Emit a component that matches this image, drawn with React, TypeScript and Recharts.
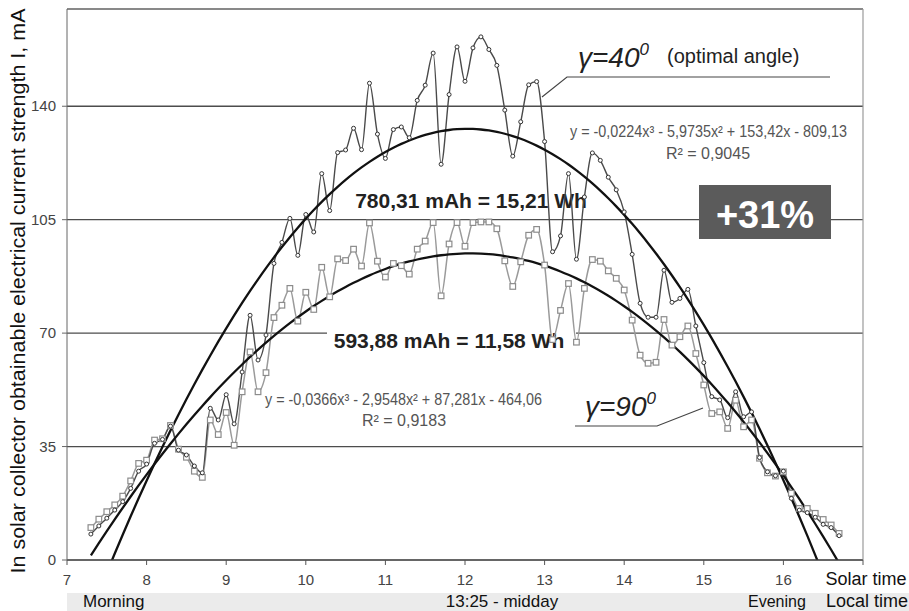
import React from "react";
import { ComposedChart, Line, XAxis, YAxis, CartesianGrid, ReferenceLine } from "recharts";

// Solar time of each measurement, 6 minutes apart
const TIMES = Array.from({ length: 95 }, (_, i) => Math.round((7.3 + i * 0.1) * 10) / 10);

// Current, mA, collector at 40 degrees (optimal angle)
const CURRENT_40 = [
  8.0, 10.5, 12.9, 15.4, 18.0, 22.1, 27.4, 29.6, 36.0, 37.2,
  41.3, 33.9, 32.4, 29.0, 26.9, 46.8, 43.2, 51.0, 42.0, 58.0,
  75.5, 61.7, 69.4, 91.5, 98.0, 105.4, 94.0, 106.6, 101.2, 119.2,
  107.8, 125.7, 126.5, 133.2, 126.6, 147.1, 131.4, 123.9, 132.8, 133.6,
  130.3, 141.8, 146.5, 156.4, 122.1, 143.6, 158.3, 147.7, 158.0, 161.4,
  157.5, 152.6, 138.8, 124.6, 135.2, 146.6, 147.6, 129.1, 95.1, 100.0,
  119.2, 92.8, 112.0, 125.6, 123.3, 118.1, 114.2, 107.4, 94.3, 79.2,
  74.9, 74.9, 89.4, 79.5, 80.7, 83.5, 72.2, 60.9, 50.4, 49.4,
  43.9, 51.9, 44.2, 45.7, 31.6, 27.2, 26.0, 27.4, 19.0, 15.4,
  14.6, 13.2, 11.0, 10.0, 7.5,
];

// Current, mA, collector at 90 degrees
const CURRENT_90 = [
  10.0, 12.6, 14.9, 17.0, 19.7, 24.4, 29.8, 30.8, 37.0, 37.4,
  41.5, 34.2, 31.7, 27.4, 25.5, 43.2, 38.7, 45.5, 35.4, 51.9,
  64.2, 51.9, 57.8, 74.8, 78.6, 83.8, 73.7, 82.6, 77.3, 90.3,
  81.2, 92.9, 92.4, 95.9, 90.7, 104.0, 92.2, 87.3, 91.5, 90.8,
  88.2, 95.9, 98.4, 104.1, 81.5, 97.5, 104.1, 96.8, 104.1, 104.3,
  104.3, 102.2, 92.3, 84.4, 92.0, 100.2, 102.0, 91.0, 68.0, 77.0,
  85.3, 67.2, 83.8, 92.7, 92.2, 89.2, 86.9, 83.3, 74.0, 63.2,
  60.7, 61.0, 74.2, 66.3, 68.9, 72.2, 63.7, 54.0, 45.2, 45.7,
  40.6, 49.3, 41.1, 43.2, 31.4, 26.9, 25.9, 27.2, 20.6, 15.9,
  15.9, 14.4, 12.5, 10.8, 8.2,
];

// cubic trendline coefficients as printed on the chart
const TREND_40 = [-0.0224, -5.9735, 153.42, -809.13];
const TREND_90 = [-0.0366, -2.9548, 87.281, -464.06];

const X_TICKS = [7, 8, 9, 10, 11, 12, 13, 14, 15, 16, 17];
const Y_TICKS = [0, 35, 70, 105, 140];

const SANS = "'Liberation Sans', Arial, sans-serif";
const NARROW = "'Liberation Sans Narrow', 'Arial Narrow', 'Liberation Sans', sans-serif";

const cubic = (c: number[], x: number) => c[0] * x ** 3 + c[1] * x ** 2 + c[2] * x + c[3];

const data = TIMES.map((t, i) => ({
  t,
  g40: CURRENT_40[i],
  g90: CURRENT_90[i],
  f40: cubic(TREND_40, t),
  f90: cubic(TREND_90, t),
}));

const SquareDot = (props: any) => {
  const { cx, cy, index } = props;
  if (cx == null || cy == null) return <g key={`sq-${index}`} />;
  return (
    <rect key={`sq-${index}`} x={cx - 2.8} y={cy - 2.8} width={5.6} height={5.6}
      fill="#fff" stroke="#8c8c8c" strokeWidth={1.2} />
  );
};

const XTick = (props: any) => {
  const { x, y, payload } = props;
  if (payload.value === 17) {
    return <text x={x + 3} y={y + 18} textAnchor="middle" fontFamily={SANS} fontSize={18} fill="#111">Solar time</text>;
  }
  return <text x={x} y={y + 18} textAnchor="middle" fontFamily={NARROW} fontSize={15} fill="#444">{payload.value}</text>;
};

const YTick = (props: any) => {
  const { x, y, payload } = props;
  return <text x={x} y={y + 5} textAnchor="end" fontFamily={NARROW} fontSize={15} fill="#444">{payload.value}</text>;
};

export default function App() {
  return (
    <div style={{ position: "absolute", left: 0, top: 0, width: 909, height: 611, background: "#fff" }}>
      <ComposedChart width={909} height={611} data={data} margin={{ top: 9, right: 46, bottom: 0, left: 0 }}>
        <CartesianGrid vertical={false} stroke="#4d4d4d" strokeWidth={1.3} />
        <XAxis dataKey="t" type="number" domain={[7, 17]} ticks={X_TICKS} height={51}
          tickSize={5} tick={<XTick />} axisLine={{ stroke: "#555" }} tickLine={{ stroke: "#555" }} />
        <YAxis type="number" domain={[0, 170]} ticks={Y_TICKS} width={67} allowDataOverflow
          tickSize={5} tickMargin={6} tick={<YTick />} axisLine={{ stroke: "#666" }} tickLine={{ stroke: "#666" }} />
        <ReferenceLine y={170} stroke="#9a9a9a" strokeWidth={1.2} />
        <ReferenceLine x={17} stroke="#9a9a9a" strokeWidth={1.2} />
        <Line dataKey="g90" type="monotone" stroke="#9a9a9a" strokeWidth={1.5}
          dot={SquareDot} isAnimationActive={false} />
        <Line dataKey="g40" type="monotone" stroke="#4a4a4a" strokeWidth={1.4}
          dot={{ r: 2, fill: "#fff", stroke: "#333", strokeWidth: 1 }} isAnimationActive={false} />
        <Line dataKey="f40" type="monotone" stroke="#111" strokeWidth={2.3} dot={false} isAnimationActive={false} />
        <Line dataKey="f90" type="monotone" stroke="#111" strokeWidth={2.3} dot={false} isAnimationActive={false} />

        <g fontFamily={SANS}>
          <text transform="translate(25,291) rotate(-90)" textAnchor="middle" fontSize={20} fill="#111"
            textLength={565} lengthAdjust="spacingAndGlyphs">
            In solar collector obtainable electrical current strength I, mA
          </text>

          <rect x={348} y={184} width={244} height={34} fill="#fff" />
          <text x={471} y={208} textAnchor="middle" fontSize={21} fontWeight="bold" fill="#222">780,31 mAh = 15,21 Wh</text>
          <rect x={327} y={324} width={249} height={32} fill="#fff" />
          <text x={449} y={348} textAnchor="middle" fontSize={21} fontWeight="bold" fill="#222">593,88 mAh = 11,58 Wh</text>

          <rect x={699} y={185} width={132} height={54} fill="#5b5b5b" />
          <text x={765} y={228} textAnchor="middle" fontSize={38} fontWeight="bold" fill="#fff">+31%</text>

          <text x={570} y={137} fontFamily={NARROW} fontSize={16} fill="#555" textLength={277} lengthAdjust="spacingAndGlyphs">
            y = -0,0224x³ - 5,9735x² + 153,42x - 809,13
          </text>
          <text x={708} y={159} textAnchor="middle" fontFamily={NARROW} fontSize={16} fill="#555">R² = 0,9045</text>
          <text x={265} y={405} fontFamily={NARROW} fontSize={16} fill="#555" textLength={277} lengthAdjust="spacingAndGlyphs">
            y = -0,0366x³ - 2,9548x² + 87,281x - 464,06
          </text>
          <text x={404} y={426} textAnchor="middle" fontFamily={NARROW} fontSize={16} fill="#555">R² = 0,9183</text>

          <text x={578} y={67} fontSize={28} fontStyle="italic" fill="#222">
            γ=40<tspan dy={-12} fontSize={17}>0</tspan>
          </text>
          <text x={667} y={63} fontSize={20} fill="#222">(optimal angle)</text>
          <polyline points="542,97 567,77 830,77" fill="none" stroke="#444" strokeWidth={1.2} />

          <text x={585} y={416} fontSize={28} fontStyle="italic" fill="#222">
            γ=90<tspan dy={-12} fontSize={17}>0</tspan>
          </text>
          <polyline points="575,426 657,426 703,408" fill="none" stroke="#444" strokeWidth={1.2} />

          <rect x={67} y={593} width={842} height={18} fill="#ebebeb" />
          <text x={83} y={607} fontSize={17} fill="#111">Morning</text>
          <text x={502} y={607} textAnchor="middle" fontSize={17} fill="#111">13:25 - midday</text>
          <text x={748} y={607} fontSize={16} fill="#111">Evening</text>
          <text x={826} y={607} fontSize={18} fill="#111">Local time</text>
        </g>
      </ComposedChart>
    </div>
  );
}
